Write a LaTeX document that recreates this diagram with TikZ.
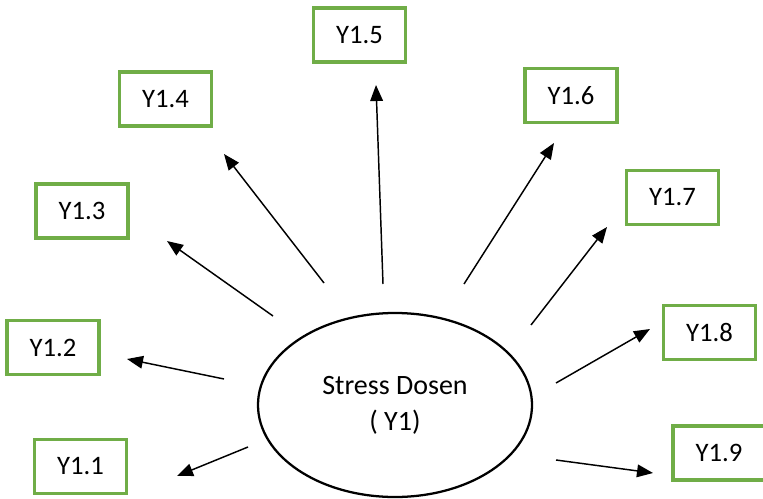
\documentclass[tikz,border=0pt]{standalone}
\usepackage{fontspec}
\setmainfont{Carlito}
\usetikzlibrary{arrows.meta,shapes.geometric}
\definecolor{boxgreen}{RGB}{112,173,71}

\begin{document}
\begin{tikzpicture}[x=0.75pt,y=-0.75pt,font=\fontsize{20}{27}\selectfont]
\tikzset{
  item/.style={draw=boxgreen,line width=2.3pt,minimum width=69pt,minimum height=40.5pt,inner sep=0pt},
  link/.style={line width=1.1pt,-{Triangle[length=12pt,width=9.5pt]}}
}
\useasboundingbox (0,0) rectangle (763,499);

\begin{scope}
\node[ellipse,draw,line width=1.7pt,minimum width=205.5pt,minimum height=138pt,inner sep=0pt,align=center,font=\fontsize{21}{27}\selectfont] (y1) at (395,405) {Stress Dosen\\( Y1)};

\node[item] (y11) at (80.5,466.5) {Y1.1};
\node[item] (y12) at (53,347.5) {Y1.2};
\node[item] (y13) at (82,211) {Y1.3};
\node[item] (y14) at (165.5,99) {Y1.4};
\node[item] (y15) at (359.5,35) {Y1.5};
\node[item] (y16) at (571,95.5) {Y1.6};
\node[item] (y17) at (672.5,197.5) {Y1.7};
\node[item] (y18) at (709.5,332.5) {Y1.8};
\node[item] (y19) at (719,453) {Y1.9};
\end{scope}

\begin{scope}
\coordinate (s1) at (248,447);  \coordinate (t1) at (177,476);
\coordinate (s2) at (224,379);  \coordinate (t2) at (127,359);
\coordinate (s3) at (273,316);  \coordinate (t3) at (167,241);
\coordinate (s4) at (324,283);  \coordinate (t4) at (224,154);
\coordinate (s5) at (383,284);  \coordinate (t5) at (376,85);
\coordinate (s6) at (464,284);  \coordinate (t6) at (554,143);
\coordinate (s7) at (531,325);  \coordinate (t7) at (607,227);
\coordinate (s8) at (556,383);  \coordinate (t8) at (650,329);
\coordinate (s9) at (556,460);  \coordinate (t9) at (653,473);

\foreach \i in {1,...,9}
  \draw[link] (s\i) -- (t\i);
\end{scope}

\end{tikzpicture}
\end{document}
